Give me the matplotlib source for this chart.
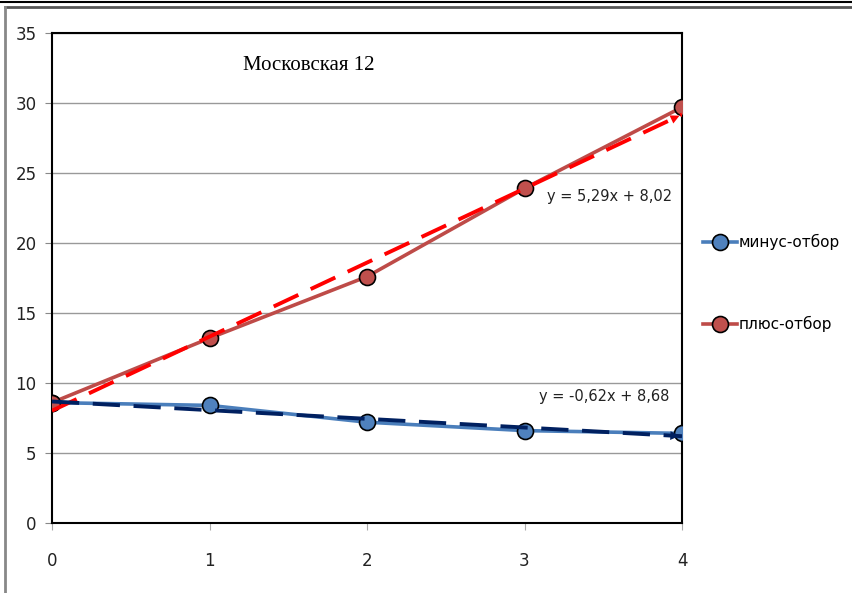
import numpy as np
import matplotlib.pyplot as plt
from matplotlib.lines import Line2D

x_vals = [0, 1, 2, 3, 4]
minus_vals = [8.6, 8.4, 7.2, 6.6, 6.4]
plus_vals = [8.6, 13.2, 17.6, 23.9, 29.7]
series_names = ["минус-отбор", "плюс-отбор"]
chart_title = "Московская 12"

sans = ["Liberation Sans Narrow", "DejaVu Sans"]
plt.rcParams["font.family"] = sans

fig = plt.figure(figsize=(8.52, 5.93), dpi=100)
ax = fig.add_axes([52 / 852, 1 - 523 / 593, 630 / 852, 490 / 593])

# frame of the picture
fig.add_artist(Line2D([0, 1], [1 - 1.5 / 593] * 2, color="black", lw=1.5))
fig.add_artist(Line2D([5 / 852, 1], [1 - 7 / 593] * 2, color="#555555", lw=2.0))
fig.add_artist(Line2D([5 / 852] * 2, [0, 1 - 7 / 593], color="#888888", lw=2.0))

# data lines
ax.plot(x_vals, minus_vals, color="#4A7EBB", lw=2.6, marker="o", ms=11.5,
        mfc="#4F81BD", mec="black", mew=1.2, zorder=3, label=series_names[0])
ax.plot(x_vals, plus_vals, color="#BE4B48", lw=2.6, marker="o", ms=11.5,
        mfc="#C0504D", mec="black", mew=1.2, zorder=3, label=series_names[1])

# linear trend lines
for vals, col, lx, ly in [(plus_vals, "#FF0000", 3.94, 23.3),
                          (minus_vals, "#002060", 3.92, 9.0)]:
    k, b = np.polyfit(x_vals, vals, 1)
    xs = np.array([0, 4])
    ys = k * xs + b
    ax.plot(xs, ys, color=col, lw=2.8, ls=(0, (7, 3.5)), zorder=4)
    ax.annotate("", xy=(xs[1], ys[1]), xytext=(xs[1] - 0.12, ys[1] - 0.12 * k),
                arrowprops=dict(arrowstyle="-|>", color=col, lw=0,
                                mutation_scale=16), zorder=4)
    sign = "-" if k < 0 else ""
    txt = f"y = {sign}{abs(k):.2f}x + {b:.2f}".replace(".", ",")
    ax.text(lx, ly, txt, ha="right", va="center", fontsize=10.5,
            color="#222222", zorder=5)

ax.text(1.63, 32.7, chart_title, fontsize=15, family="Liberation Serif",
        ha="center", va="center")

ax.set_xlim(0, 4)
ax.set_ylim(0, 35)
ax.set_xticks(range(0, 5))
ax.set_yticks(range(0, 36, 5))
ax.grid(axis="y", color="#999999", lw=1)
ax.set_axisbelow(True)
for s in ax.spines.values():
    s.set_color("black")
    s.set_linewidth(1.5)
ax.tick_params(axis="y", direction="out", length=5, color="#888888",
               labelsize=12, labelcolor="#222222", pad=6)
ax.tick_params(axis="x", direction="out", length=5, color="#aaaaaa",
               labelsize=12, labelcolor="#222222", pad=16)

fig.legend(loc="upper left", bbox_to_anchor=(703 / 852, 1 - 234 / 593),
           frameon=False, fontsize=11, labelspacing=4.3, handlelength=2.2,
           handletextpad=0.1, borderpad=0, borderaxespad=0)

fig.savefig("out.png", dpi=100)
